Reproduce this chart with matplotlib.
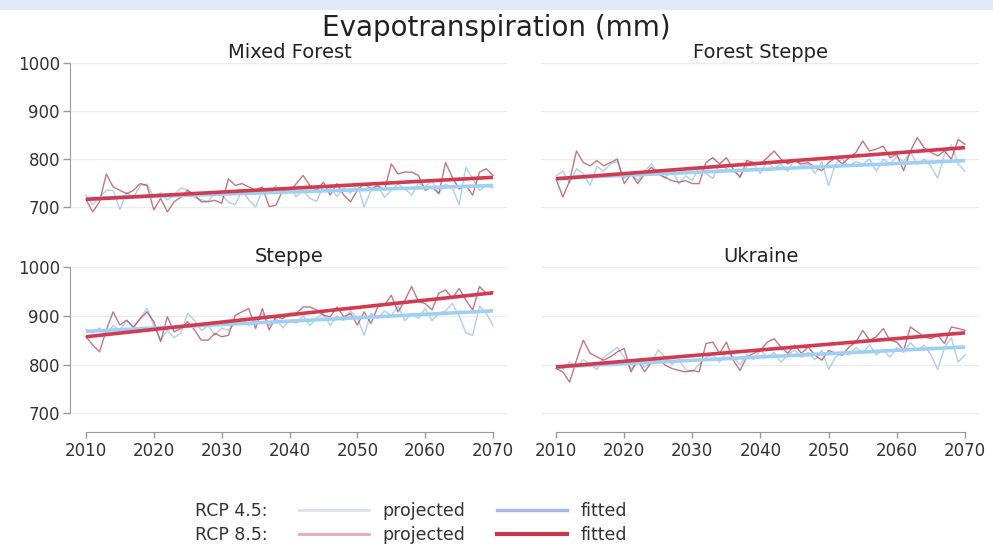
import numpy as np
import matplotlib
matplotlib.use("Agg")
import matplotlib.pyplot as plt
from matplotlib.lines import Line2D
from matplotlib.patches import Rectangle

# 年份 2010-2070
years = np.arange(2010, 2071)

regions = ["Mixed Forest", "Forest Steppe", "Steppe", "Ukraine"]

# Mixed Forest
mf_rcp45 = [725, 705, 720, 735, 735, 695, 730, 720, 745, 748,
            720, 730, 715, 725, 740, 735, 720, 715, 712, 730,
            725, 710, 705, 735, 715, 700, 735, 730, 745, 728,
            740, 722, 735, 718, 712, 745, 740, 722, 740, 730,
            748, 700, 735, 745, 720, 735, 748, 738, 725, 750,
            742, 755, 728, 748, 740, 705, 783, 760, 735, 745,
            740]
mf_rcp85 = [716, 690, 711, 769, 742, 735, 728, 735, 749, 745,
            694, 718, 690, 711, 721, 735, 725, 711, 711, 714,
            708, 759, 745, 749, 742, 735, 742, 701, 704, 735,
            731, 749, 766, 745, 735, 752, 725, 749, 725, 711,
            735, 749, 738, 745, 735, 790, 769, 773, 773, 766,
            735, 742, 728, 793, 762, 738, 745, 725, 773, 780,
            766]

# Forest Steppe
fs_rcp45 = [765, 775, 750, 780, 770, 745, 785, 775, 790, 795,
            760, 770, 755, 775, 790, 770, 760, 780, 748, 765,
            755, 785, 770, 760, 790, 780, 775, 765, 785, 790,
            770, 795, 780, 790, 775, 800, 785, 790, 770, 795,
            745, 790, 800, 785, 795, 790, 800, 775, 800, 790,
            805, 795, 815, 790, 800, 785, 760, 810, 830, 790,
            775]
fs_rcp85 = [759, 721, 755, 817, 793, 786, 797, 786, 793, 800,
            749, 769, 749, 769, 783, 769, 762, 755, 752, 755,
            749, 749, 793, 803, 790, 803, 779, 762, 797, 793,
            790, 803, 817, 800, 790, 797, 790, 793, 783, 776,
            793, 803, 790, 803, 814, 838, 817, 821, 827, 803,
            810, 776, 817, 845, 824, 814, 807, 817, 800, 841,
            831]

# Steppe
st_rcp45 = [872, 865, 875, 860, 880, 870, 890, 875, 895, 915,
            880, 850, 870, 855, 865, 905, 890, 870, 880, 860,
            875, 870, 885, 895, 880, 890, 905, 880, 895, 875,
            890, 885, 900, 880, 895, 905, 880, 900, 890, 910,
            895, 860, 905, 895, 910, 900, 920, 890, 905, 895,
            915, 890, 905, 910, 925, 900, 865, 860, 920, 905,
            880]
st_rcp85 = [857, 840, 826, 871, 908, 881, 891, 877, 894, 908,
            888, 847, 898, 867, 874, 888, 871, 850, 850, 864,
            857, 860, 901, 908, 915, 874, 915, 871, 898, 894,
            905, 905, 918, 918, 912, 901, 898, 918, 898, 905,
            881, 908, 884, 918, 922, 942, 908, 932, 960, 929,
            925, 912, 946, 953, 936, 956, 932, 912, 960, 946,
            949]

# Ukraine
ua_rcp45 = [800, 790, 805, 795, 810, 800, 790, 815, 825, 835,
            815, 790, 810, 795, 805, 830, 815, 800, 810, 790,
            785, 800, 815, 820, 805, 825, 815, 800, 820, 810,
            830, 815, 825, 805, 820, 830, 815, 825, 810, 830,
            790, 815, 825, 820, 835, 825, 840, 820, 830, 815,
            835, 825, 845, 830, 840, 820, 790, 835, 855, 805,
            820]
ua_rcp85 = [792, 785, 764, 809, 850, 823, 816, 809, 816, 826,
            833, 785, 809, 785, 805, 812, 799, 792, 788, 785,
            788, 785, 843, 846, 823, 846, 809, 788, 816, 823,
            829, 846, 853, 836, 823, 840, 823, 836, 819, 809,
            829, 823, 819, 836, 846, 870, 850, 857, 874, 850,
            846, 829, 877, 867, 857, 853, 860, 843, 877, 874,
            870]

# 拟合线 (2010 和 2070 的值)
fit45_start = [718, 760, 868, 795]
fit45_end = [745, 797, 910, 836]
fit85_start = [716, 759, 857, 795]
fit85_end = [762, 824, 947, 865]

rcp45 = [mf_rcp45, fs_rcp45, st_rcp45, ua_rcp45]
rcp85 = [mf_rcp85, fs_rcp85, st_rcp85, ua_rcp85]

y_ticks = [700, 800, 900, 1000]
x_ticks = [2010, 2020, 2030, 2040, 2050, 2060, 2070]

plt.rcParams["font.family"] = ["DejaVu Sans"]
text_color = "#333333"

fig = plt.figure(figsize=(9.93, 5.51), dpi=100)

# 顶部浅蓝色条
fig.patches.append(Rectangle((0, 1 - 10 / 551), 1, 10 / 551, transform=fig.transFigure,
                             facecolor="#dfeaf6", edgecolor="none", zorder=0))

positions = [[0.0729, 0.6094, 0.4373, 0.2775],
             [0.5462, 0.6094, 0.4393, 0.2775],
             [0.0729, 0.2348, 0.4373, 0.2824],
             [0.5462, 0.2348, 0.4393, 0.2824]]

for i in range(4):
    ax = fig.add_axes(positions[i])
    ax.set_xlim(2008, 2072)
    ax.set_ylim(683, 1002)
    ax.set_yticks(y_ticks)
    ax.set_xticks(x_ticks)
    ax.grid(axis="y", color="#ececec", lw=1)
    ax.set_axisbelow(True)

    ax.plot(years, rcp45[i], color="#a9c8ee", lw=1.0, alpha=0.9)
    ax.plot(years, rcp85[i], color="#a5404f", lw=1.0, alpha=0.7)
    ax.plot([2010, 2070], [fit45_start[i], fit45_end[i]], color="#9fd0f2", lw=2.6,
            solid_capstyle="butt")
    ax.plot([2010, 2070], [fit85_start[i], fit85_end[i]], color="#d23a50", lw=2.6,
            solid_capstyle="butt")

    ax.set_title(regions[i], fontsize=14, color="#222222", pad=1)

    ax.spines["top"].set_visible(False)
    ax.spines["right"].set_visible(False)

    if i in (0, 2):
        ax.spines["left"].set_color("#999999")
        ax.spines["left"].set_bounds(700, 1000)
        ax.spines["left"].set_position(("outward", 2))
        ax.tick_params(axis="y", length=5, width=1, color="#999999", pad=2,
                       labelsize=12, labelcolor=text_color)
    else:
        ax.spines["left"].set_visible(False)
        ax.tick_params(axis="y", length=0, labelleft=False)

    if i in (2, 3):
        ax.spines["bottom"].set_color("#999999")
        ax.spines["bottom"].set_bounds(2010, 2070)
        ax.spines["bottom"].set_position(("outward", 7.5))
        ax.tick_params(axis="x", length=4, width=1, color="#999999", pad=3,
                       labelsize=12, labelcolor=text_color)
    else:
        ax.spines["bottom"].set_visible(False)
        ax.tick_params(axis="x", length=0, labelbottom=False)

fig.text(0.5, 1 - 28 / 551, "Evapotranspiration (mm)", fontsize=20, color="#222222",
         ha="center", va="center")

# 图例
blank = Line2D([], [], color="none")
handles = [blank, blank,
           Line2D([], [], color="#dadff0", lw=2), Line2D([], [], color="#e6a9b1", lw=2),
           Line2D([], [], color="#a9b8e6", lw=2.5), Line2D([], [], color="#c4384a", lw=3)]
labels = ["RCP 4.5:", "RCP 8.5:", "projected", "projected", "fitted", "fitted"]
fig.legend(handles, labels, ncol=3, loc="upper left", bbox_to_anchor=(0.1118, 0.089),
           frameon=False, fontsize=12.5, handlelength=4.03, handletextpad=0.8,
           columnspacing=1.8, labelspacing=0.33, borderpad=0, borderaxespad=0,
           labelcolor=text_color)

fig.savefig("out.png", dpi=100)
